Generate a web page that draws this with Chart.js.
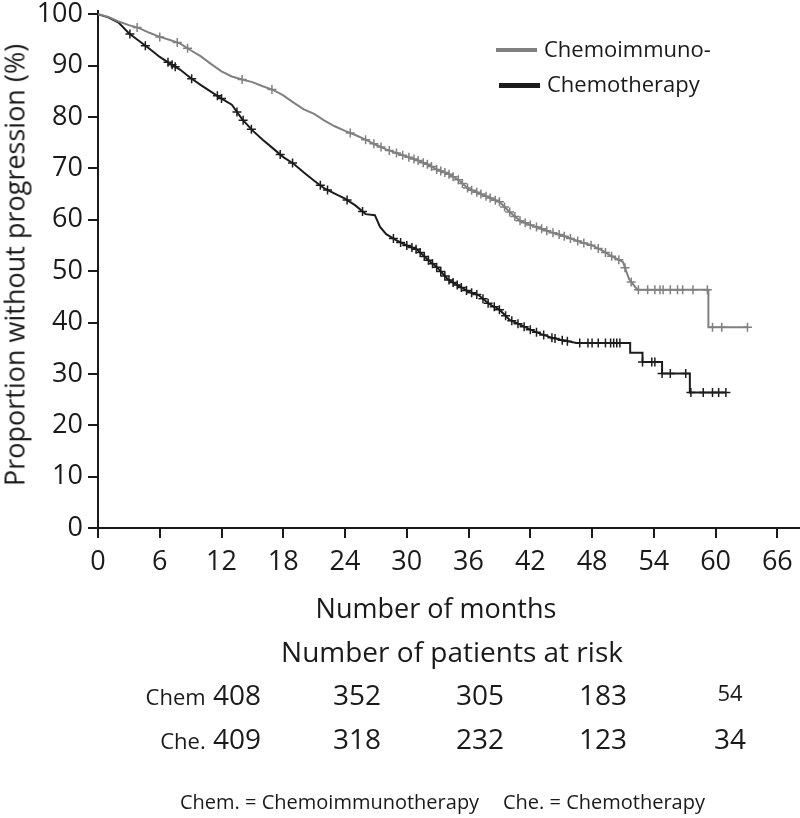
<!DOCTYPE html>
<html><head><meta charset="utf-8">
<script src="https://cdn.jsdelivr.net/npm/chart.js@4/dist/chart.umd.min.js"></script>
<style>
html,body{margin:0;padding:0;background:#fff;}
#wrap{position:relative;width:800px;height:818px;overflow:hidden;font-family:'Open Sans',sans-serif;color:#1a1a1a;}
canvas{position:absolute;left:0;top:0;}
.t{position:absolute;white-space:nowrap;line-height:1;}
</style></head><body>
<div id="wrap"><canvas id="c" width="800" height="818"></canvas></div>
<script>
// ---- data ----
const seriesNames = ['Chemoimmuno-', 'Chemotherapy'];
const xTicks = [0, 6, 12, 18, 24, 30, 36, 42, 48, 54, 60, 66];
const yTicks = [0, 10, 20, 30, 40, 50, 60, 70, 80, 90, 100];

const chemoimmunoMonths = [0,1,2,3,4,5,6,7,8,9,10,11,12,13,14,15,16,17,18,19,20,21,22,23,24,25,26,27,28,29,30,31,32,33,34,35,36,37,38,39,40,41,42,43,44,45,46,47,48,49,50,51,51.6,52.4,59.3,59.3,63.1];
const chemoimmunoPct    = [100,99.5,98.6,97.9,97.3,96.4,95.6,95.0,94.3,93.0,91.8,90.3,88.9,87.9,87.3,86.8,86.0,85.3,84.2,82.8,81.5,80.6,79.3,78.2,77.3,76.5,75.6,74.6,73.7,73.0,72.3,71.6,70.8,69.7,69.0,67.8,66.0,65.2,64.3,63.5,61.5,59.8,59.0,58.3,57.6,57.0,56.3,55.6,55.0,54.0,52.8,51.8,48.4,46.4,46.4,39.1,39.1];

const chemoMonths = [0,1,2,3,4,5,6,7,8,9,10,11,12,13,14,15,16,17,18,19,20,21,22,23,24,25,26,26.9,27.4,28,29,30,31,32,33,34,35,36,37,38,39,40,41,42,43,44,45,46.5,51.7,51.7,52.9,52.9,54.8,54.8,57.5,57.5,61.0];
const chemoPct    = [100,99.4,98.4,96.3,94.8,93.3,91.7,90.4,89.2,87.6,86.2,84.9,83.6,82.4,79.6,77.4,75.6,73.9,72.2,70.9,69.2,67.6,66.1,65.1,64.1,62.8,61.1,60.9,58.6,57.2,56.0,55.0,54.2,52.3,50.6,48.4,47.2,46.0,45.3,43.6,42.5,40.5,39.6,38.6,37.8,37.1,36.6,36.0,36.0,34.1,34.1,32.3,32.3,30.1,30.1,26.4,26.4];

const chemoimmunoCensored = [3.8,6.0,7.7,8.7,14.0,16.9,24.5,26.0,26.8,27.5,28.3,29.0,29.6,30.2,30.7,31.1,31.6,32.0,32.4,32.9,33.3,33.7,34.1,34.5,35.0,35.4,35.9,36.3,36.8,37.2,37.7,38.1,38.6,39.0,39.5,40.0,40.5,41.0,41.5,42.0,42.6,43.1,43.6,44.2,44.8,45.3,45.9,46.6,47.2,47.9,48.6,49.3,49.9,50.6,51.2,51.8,52.5,53.4,54.1,54.6,54.9,55.6,56.3,56.8,57.8,59.2,59.7,60.6,63.1];
const chemoCensored = [3.1,4.6,6.8,7.2,7.5,9.1,11.6,12.0,13.5,14.1,14.9,17.7,18.9,21.6,22.3,24.2,25.7,28.7,29.4,30.0,30.5,30.9,31.3,31.7,32.1,32.5,32.9,33.3,33.7,34.1,34.5,34.9,35.3,35.8,36.3,36.8,37.4,37.9,38.5,39.0,39.6,40.2,40.8,41.4,42.0,42.6,43.3,44.1,44.4,45.1,45.6,46.8,47.6,48.0,48.6,49.3,49.8,50.1,50.4,50.7,52.9,53.8,54.1,54.8,55.6,57.1,57.6,58.8,59.7,60.3,61.0];

const riskRowLabels = ['Chem', 'Che.'];
const riskChemoimmuno = [408, 352, 305, 183, 54];
const riskChemo = [409, 318, 232, 123, 34];
const riskTitle = 'Number of patients at risk';
const footnotes = ['Chem. = Chemoimmunotherapy', 'Che. = Chemotherapy'];
const xTitle = 'Number of months';
const yTitle = 'Proportion without progression (%)';

// ---- build ----
const GRAY = '#808080', BLACK = '#1c1c1c';
function toXY(xs, ys){ return xs.map((x,i)=>({x:x, y:ys[i]})); }
function valueAt(xs, ys, t){
  for (let i = xs.length - 1; i >= 0; i--) {
    if (xs[i] <= t) {
      if (i === xs.length - 1 || xs[i+1] === xs[i]) return ys[i];
      const f = (t - xs[i]) / (xs[i+1] - xs[i]);
      return ys[i] + f * (ys[i+1] - ys[i]);
    }
  }
  return ys[0];
}
function censorXY(ts, xs, ys){ return ts.map(t=>({x:t, y:valueAt(xs, ys, t)})); }

const FONT = "'Open Sans', sans-serif";
new Chart(document.getElementById('c'), {
  type: 'line',
  data: {
    datasets: [
      {label: seriesNames[0], data: toXY(chemoimmunoMonths, chemoimmunoPct), borderColor: GRAY, borderWidth: 2, pointRadius: 0, tension: 0, fill: false},
      {label: seriesNames[1], data: toXY(chemoMonths, chemoPct), borderColor: BLACK, borderWidth: 2, pointRadius: 0, tension: 0, fill: false},
      {label: 'c1', data: censorXY(chemoimmunoCensored, chemoimmunoMonths, chemoimmunoPct), showLine: false, pointStyle: 'cross', pointRadius: 4.5, borderColor: GRAY, borderWidth: 1.5},
      {label: 'c2', data: censorXY(chemoCensored, chemoMonths, chemoPct), showLine: false, pointStyle: 'cross', pointRadius: 4.5, borderColor: BLACK, borderWidth: 1.5}
    ]
  },
  options: {
    responsive: false, animation: false, devicePixelRatio: 1,
    layout: {autoPadding: false, padding: {top: 10.7, right: 0, bottom: 0, left: 0}},
    plugins: {legend: {display: false}, tooltip: {enabled: false}},
    scales: {
      x: {
        type: 'linear', min: 0, max: 68.2,
        afterBuildTicks: s => { s.ticks = xTicks.map(v => ({value: v})); },
        afterFit: s => { s.height = 290; s.paddingLeft = 0; s.paddingRight = 0; },
        grid: {display: true, drawOnChartArea: false, drawTicks: true, tickLength: 10, color: '#1a1a1a', lineWidth: 2},
        border: {display: true, color: '#1a1a1a', width: 2},
        ticks: {color: '#1a1a1a', font: {family: FONT, size: 27}, padding: 8, maxRotation: 0, autoSkip: false}
      },
      y: {
        type: 'linear', min: 0, max: 100.7,
        afterBuildTicks: s => { s.ticks = yTicks.map(v => ({value: v})); },
        afterFit: s => { s.width = 98; s.paddingTop = 0; s.paddingBottom = 0; },
        grid: {display: true, drawOnChartArea: false, drawTicks: true, tickLength: 10, color: '#1a1a1a', lineWidth: 2},
        border: {display: true, color: '#1a1a1a', width: 2},
        ticks: {color: '#1a1a1a', font: {family: FONT, size: 27}, padding: 5, autoSkip: false}
      }
    }
  }
});

// ---- overlay text ----
const wrap = document.getElementById('wrap');
function place(html, x, y, size, align){
  const d = document.createElement('div');
  d.className = 't';
  d.innerHTML = html;
  d.style.fontSize = size + 'px';
  d.style.left = x + 'px';
  d.style.top = y + 'px';
  const tx = align === 'left' ? '0' : (align === 'right' ? '-100%' : '-50%');
  d.style.transform = 'translate(' + tx + ',-50%)';
  wrap.appendChild(d);
  return d;
}
// axis titles
const yt = place(yTitle, 14, 265, 27, 'center');
yt.style.transform = 'translate(-50%,-50%) rotate(-90deg)';
place(xTitle, 436, 607, 27, 'center');
// legend
function swatch(x, y, w, h, c){
  const d = document.createElement('div');
  d.style.cssText = 'position:absolute;left:'+x+'px;top:'+(y-h/2)+'px;width:'+w+'px;height:'+h+'px;background:'+c;
  wrap.appendChild(d);
}
swatch(496, 50, 41, 4.5, GRAY);
swatch(499, 85, 41, 5, BLACK);
place(seriesNames[0], 544, 48, 22, 'left');
place(seriesNames[1], 547, 83, 22, 'left');
// risk table
place(riskTitle, 452, 651, 28, 'center');
const colX = [357, 480, 603, 730];
const rows = [riskChemoimmuno, riskChemo];
const rowY = [694, 738];
rows.forEach((vals, r) => {
  place('<span style="font-size:22px">' + riskRowLabels[r] + '</span> ' + vals[0], 261, rowY[r], 28, 'right');
  vals.slice(1).forEach((v, i) => {
    const small = (r === 0 && i === 3);
    place(String(v), colX[i], rowY[r] + (small ? -2 : 0), small ? 22 : 28, 'center');
  });
});
place(footnotes[0], 180, 802, 20, 'left');
place(footnotes[1], 503, 802, 20, 'left');
</script>
</body></html>
